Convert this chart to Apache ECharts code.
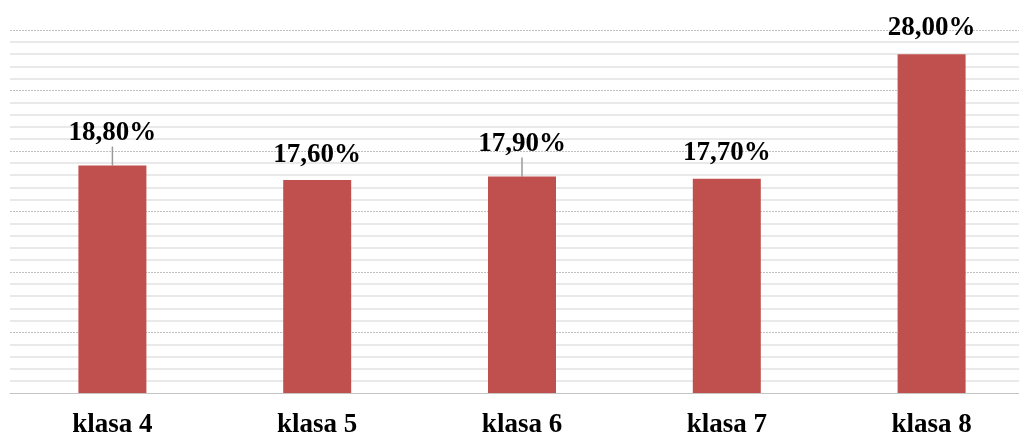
<!DOCTYPE html>
<html>
<head>
<meta charset="utf-8">
<script src="https://cdn.jsdelivr.net/npm/echarts@6/dist/echarts.min.js"></script>
<style>
    html, body { margin: 0; padding: 0; background: #fff; }
    #chart_klasy { width: 1019px; height: 436px; }
</style>
</head>
<body>
<div id="chart_klasy"></div>
<script>
// dane z wykresu
var categories = ['klasa 4', 'klasa 5', 'klasa 6', 'klasa 7', 'klasa 8'];
var values = [18.8, 17.6, 17.9, 17.7, 28.0];
// etykiety przesunięte w górę (z linią odniesienia)
var labelShift = [-7, 0, -7, 0, -1];
var hasLeader = [true, false, true, false, false];

var serif = 'Liberation Serif, Times New Roman, serif';

var myChart = echarts.init(document.getElementById('chart_klasy'));

var option = {
    animation: false,
    grid: {
        left: 10,
        right: -15,
        top: 30,
        bottom: 43,
        outerBoundsMode: 'none',
        containLabel: false
    },
    xAxis: {
        type: 'category',
        data: categories,
        axisLine: { show: true, lineStyle: { color: '#c4c4c4', width: 1 } },
        axisTick: { show: false },
        axisLabel: {
            color: '#000',
            fontFamily: serif,
            fontWeight: 'bold',
            fontSize: 27,
            margin: 19
        }
    },
    yAxis: {
        type: 'value',
        min: 0,
        max: 30,
        interval: 5,
        axisLabel: { show: false },
        axisLine: { show: false },
        axisTick: { show: false },
        splitLine: {
            show: true,
            lineStyle: { color: '#c0c0c0', width: 1, type: [2, 1] }
        },
        minorTick: { show: false, splitNumber: 5 },
        minorSplitLine: {
            show: true,
            lineStyle: { color: '#e2e2e2', width: 1.5 }
        }
    },
    series: [
        {
            type: 'bar',
            barWidth: 68,
            itemStyle: { color: '#C0504D' },
            data: values.map(function (v, i) {
                return {
                    value: v,
                    labelLine: { show: hasLeader[i] }
                };
            }),
            label: {
                show: true,
                position: 'top',
                distance: 12,
                color: '#000',
                fontFamily: serif,
                fontWeight: 'bold',
                fontSize: 27,
                formatter: function (p) {
                    return p.value.toFixed(2).replace('.', ',') + '%';
                }
            },
            labelLine: {
                lineStyle: { color: '#9a9a9a', width: 1.5 }
            },
            labelLayout: function (params) {
                return { dy: labelShift[params.dataIndex] };
            }
        }
    ]
};

myChart.setOption(option);
</script>
</body>
</html>
